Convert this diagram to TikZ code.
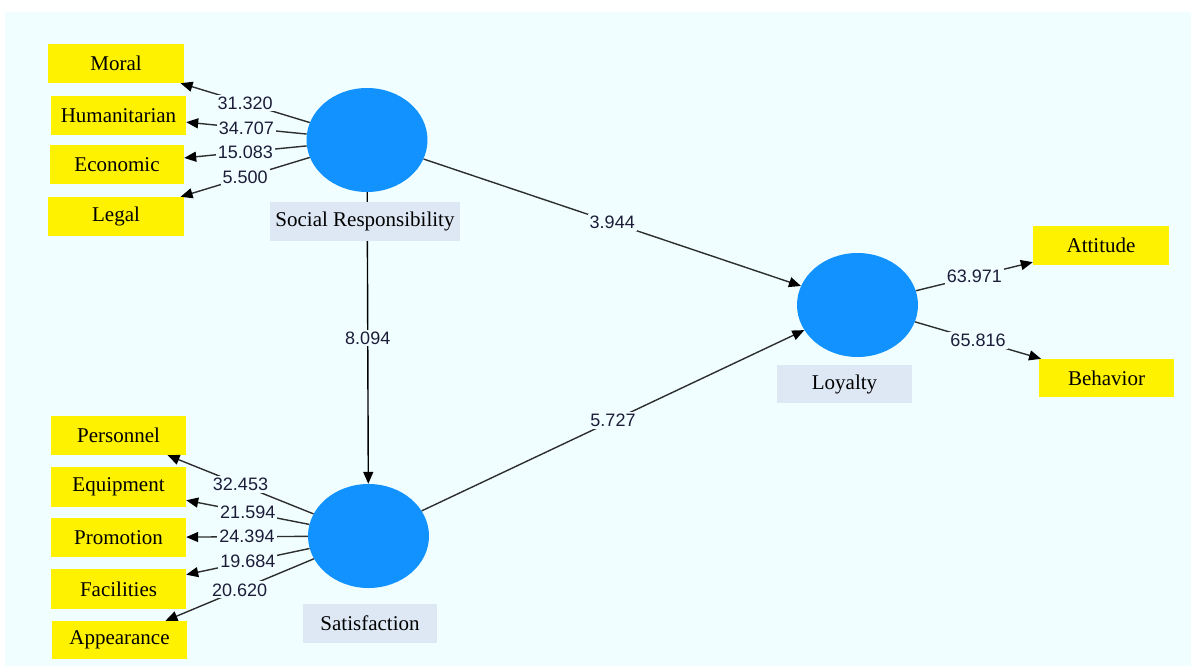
\documentclass[tikz,border=0pt]{standalone}
\usepackage{fontspec}
\setmainfont{Liberation Serif}
\newfontfamily\numfont{Liberation Sans}
\usetikzlibrary{shapes.geometric,arrows.meta}
\definecolor{bgcyan}{HTML}{F0FEFF}
\definecolor{latblue}{HTML}{1192FF}
\definecolor{labbox}{HTML}{DEE8F5}
\definecolor{numcol}{HTML}{1C1C38}
\definecolor{linecol}{HTML}{2E2E2E}
\tikzset{
  ind/.style={rectangle, fill=yellow, inner sep=0pt, minimum width=135pt, minimum height=39pt, font=\fontsize{21}{24}\selectfont},
  latent/.style={ellipse, fill=latblue, inner sep=0pt, minimum width=121pt, minimum height=104pt},
  latlab/.style={rectangle, fill=labbox, inner sep=0pt, minimum height=39pt, font=\fontsize{21}{24}\selectfont},
  conn/.style={draw=linecol, line width=1.4pt, -{Triangle[length=12pt,width=10pt,color=black]}},
  num/.style={fill=bgcyan, inner sep=2pt, text=numcol, font=\numfont\fontsize{18}{20}\selectfont}
}
\begin{document}
\begin{tikzpicture}[x=1pt,y=-1pt]
\useasboundingbox (0,0) rectangle (1191,669);
\fill[white] (0,0) rectangle (1191,669);
\fill[bgcyan] (5,12) rectangle (1191,666);

% indicators
\node[ind, minimum width=136pt] (moral) at (116,63.5) {Moral};
\node[ind] (human) at (118.5,115.5) {Humanitarian};
\node[ind, minimum width=134pt] (econ) at (117,164.5) {Economic};
\node[ind, minimum width=136pt] (legal) at (116,216.5) {Legal};
\node[ind] (pers) at (118.5,435.5) {Personnel};
\node[ind, minimum height=40pt] (equip) at (118.5,487) {Equipment};
\node[ind] (promo) at (118.5,537.5) {Promotion};
\node[ind, minimum height=40pt] (facil) at (118.5,589) {Facilities};
\node[ind, minimum height=38pt] (appear) at (119.5,640) {Appearance};
\node[ind, minimum width=136pt] (att) at (1101,245.5) {Attitude};
\node[ind, minimum height=38pt] (beh) at (1106.5,378) {Behavior};

% latent variables
\node[latent] (sr) at (367,140) {};
\node[latent] (sat) at (368.5,536) {};
\node[latent] (loy) at (857.5,305) {};

% outer loadings
\draw[conn] (sr) -- (moral) node[num, midway] {31.320};
\draw[conn] (sr) -- (human) node[num, midway] {34.707};
\draw[conn] (sr) -- (econ) node[num, midway] {15.083};
\draw[conn] (sr) -- (legal) node[num, midway] {5.500};
\draw[conn] (sat) -- (pers) node[num, midway] {32.453};
\draw[conn] (sat) -- (equip) node[num, midway] {21.594};
\draw[conn] (sat) -- (promo) node[num, midway] {24.394};
\draw[conn] (sat) -- (facil) node[num, midway] {19.684};
\draw[conn] (sat) -- (appear) node[num, midway] {20.620};
\draw[conn] (loy) -- (att) node[num, midway] {63.971};
\draw[conn] (loy) -- (beh) node[num, midway] {65.816};

% structural paths
\draw[conn, draw=black] (sr) -- (sat) node[num, midway] {8.094};
\draw[conn] (sr) -- (loy) node[num, midway] {3.944};
\draw[conn] (sat) -- (loy) node[num, midway] {5.727};

% latent labels
\node[latlab, minimum width=190pt] (srlab) at (365,221) {Social Responsibility};
\node[latlab, minimum width=134pt] (satlab) at (370,623.5) {Satisfaction};
\node[latlab, minimum width=135pt, minimum height=38pt] (loylab) at (844.5,384) {Loyalty};
\end{tikzpicture}
\end{document}
